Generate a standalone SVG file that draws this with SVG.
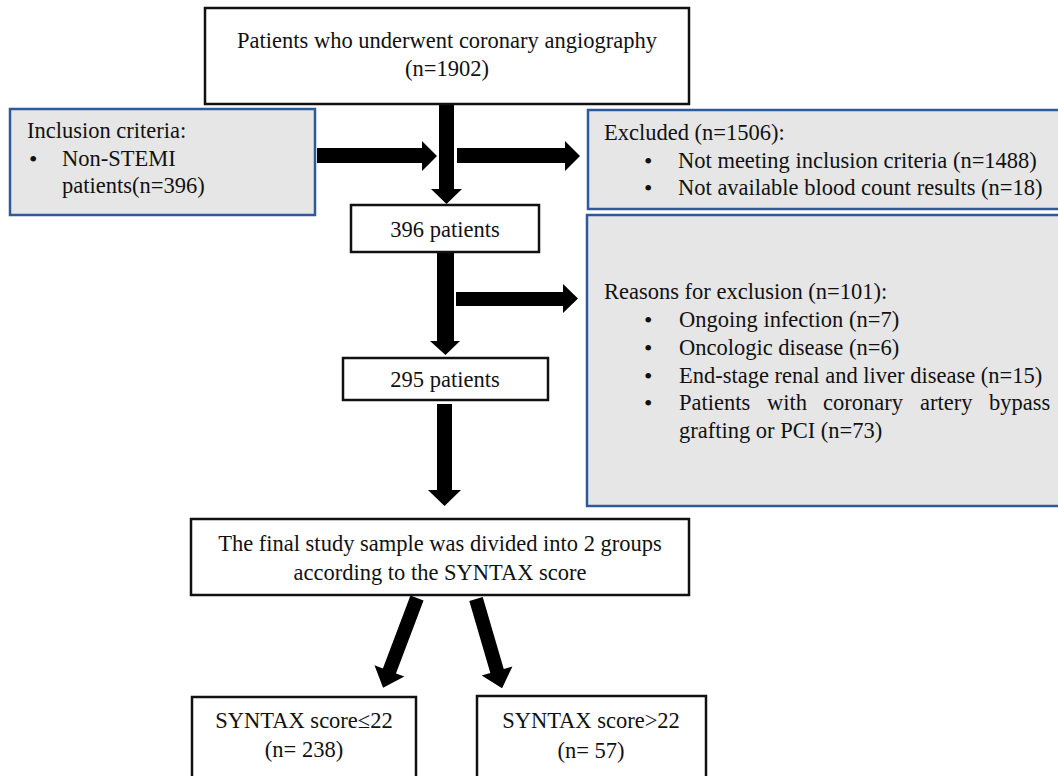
<svg xmlns="http://www.w3.org/2000/svg" width="1058" height="776" viewBox="0 0 1058 776">
<style>
.box{fill:#ffffff;stroke:#111111;stroke-width:2.5}
.gbox{fill:#e6e6e6;stroke:#2f5a9a;stroke-width:2.5}
text{font-family:"Liberation Serif","Times New Roman",serif;font-size:22.5px;fill:#111111}
.c{text-anchor:middle}
.b{font-size:24px}
.arr{fill:#000000}
</style>
<rect width="1058" height="776" fill="#ffffff"/>
<g id="connectors">
<polygon class="arr" points="439,104 454,104 454,189 462,189 446.5,204 431,189 439,189"/>
<polygon class="arr" points="317,148 422,148 422,141 437,156 422,171 422,163 317,163"/>
<polygon class="arr" points="457,148 565,148 565,141 580,156 565,171 565,163 457,163"/>
<polygon class="arr" points="437,252 454,252 454,341 460,341 445.5,355 430,341 437,341"/>
<polygon class="arr" points="456,292 563,292 563,284 578,298.5 563,313 563,306 456,306"/>
<polygon class="arr" points="437,404 452,404 452,490 461,490 444.5,506 428,490 437,490"/>
<polygon class="arr" transform="translate(417,598) rotate(20.7)" points="-7,0 7,0 7,78 16,78 0,96 -16,78 -7,78"/>
<polygon class="arr" transform="translate(476,599) rotate(-16.3)" points="-7,0 7,0 7,75 16,75 0,93 -16,75 -7,75"/>
</g>
<g id="n1">
<rect class="box" x="205" y="8" width="484" height="96"/>
<text class="c" x="447" y="48">Patients who underwent coronary angiography</text>
<text class="c" x="447" y="76">(n=1902)</text>
</g>
<g id="inclusion">
<rect class="gbox" x="10" y="109" width="305" height="106"/>
<text x="27" y="138">Inclusion criteria:</text>
<text class="b" x="29" y="167">•</text>
<text x="62" y="166">Non-STEMI</text>
<text x="62" y="193">patients(n=396)</text>
</g>
<g id="excluded">
<rect class="gbox" x="588" y="110" width="490" height="99"/>
<text x="604" y="140">Excluded (n=1506):</text>
<text class="b" x="644" y="169">•</text>
<text x="678" y="168">Not meeting inclusion criteria (n=1488)</text>
<text class="b" x="644" y="196">•</text>
<text x="678" y="195">Not available blood count results (n=18)</text>
</g>
<g id="n396">
<rect class="box" x="351" y="205" width="188" height="47"/>
<text class="c" x="445" y="237">396 patients</text>
</g>
<g id="reasons">
<rect class="gbox" x="587" y="215" width="491" height="291"/>
<text x="604" y="299">Reasons for exclusion (n=101):</text>
<text class="b" x="644" y="328">•</text>
<text x="679" y="327">Ongoing infection (n=7)</text>
<text class="b" x="644" y="356">•</text>
<text x="679" y="355">Oncologic disease (n=6)</text>
<text class="b" x="644" y="384">•</text>
<text x="679" y="383">End-stage renal and liver disease (n=15)</text>
<text class="b" x="644" y="411">•</text>
<text y="410"><tspan x="679">Patients</tspan><tspan x="767">with</tspan><tspan x="823">coronary</tspan><tspan x="920">artery</tspan><tspan x="989">bypass</tspan></text>
<text x="679" y="438">grafting or PCI (n=73)</text>
</g>
<g id="n295">
<rect class="box" x="343" y="358" width="205" height="42"/>
<text class="c" x="445" y="387">295 patients</text>
</g>
<g id="final">
<rect class="box" x="191" y="519" width="498" height="76"/>
<text class="c" x="440" y="551">The final study sample was divided into 2 groups</text>
<text class="c" x="440" y="580">according to the SYNTAX score</text>
</g>
<g id="low">
<rect class="box" x="192" y="697" width="224" height="95"/>
<text class="c" x="304" y="728">SYNTAX score≤22</text>
<text class="c" x="304" y="757">(n= 238)</text>
</g>
<g id="high">
<rect class="box" x="477" y="696" width="229" height="96"/>
<text class="c" x="591" y="728">SYNTAX score&gt;22</text>
<text class="c" x="591" y="758">(n= 57)</text>
</g>
</svg>
